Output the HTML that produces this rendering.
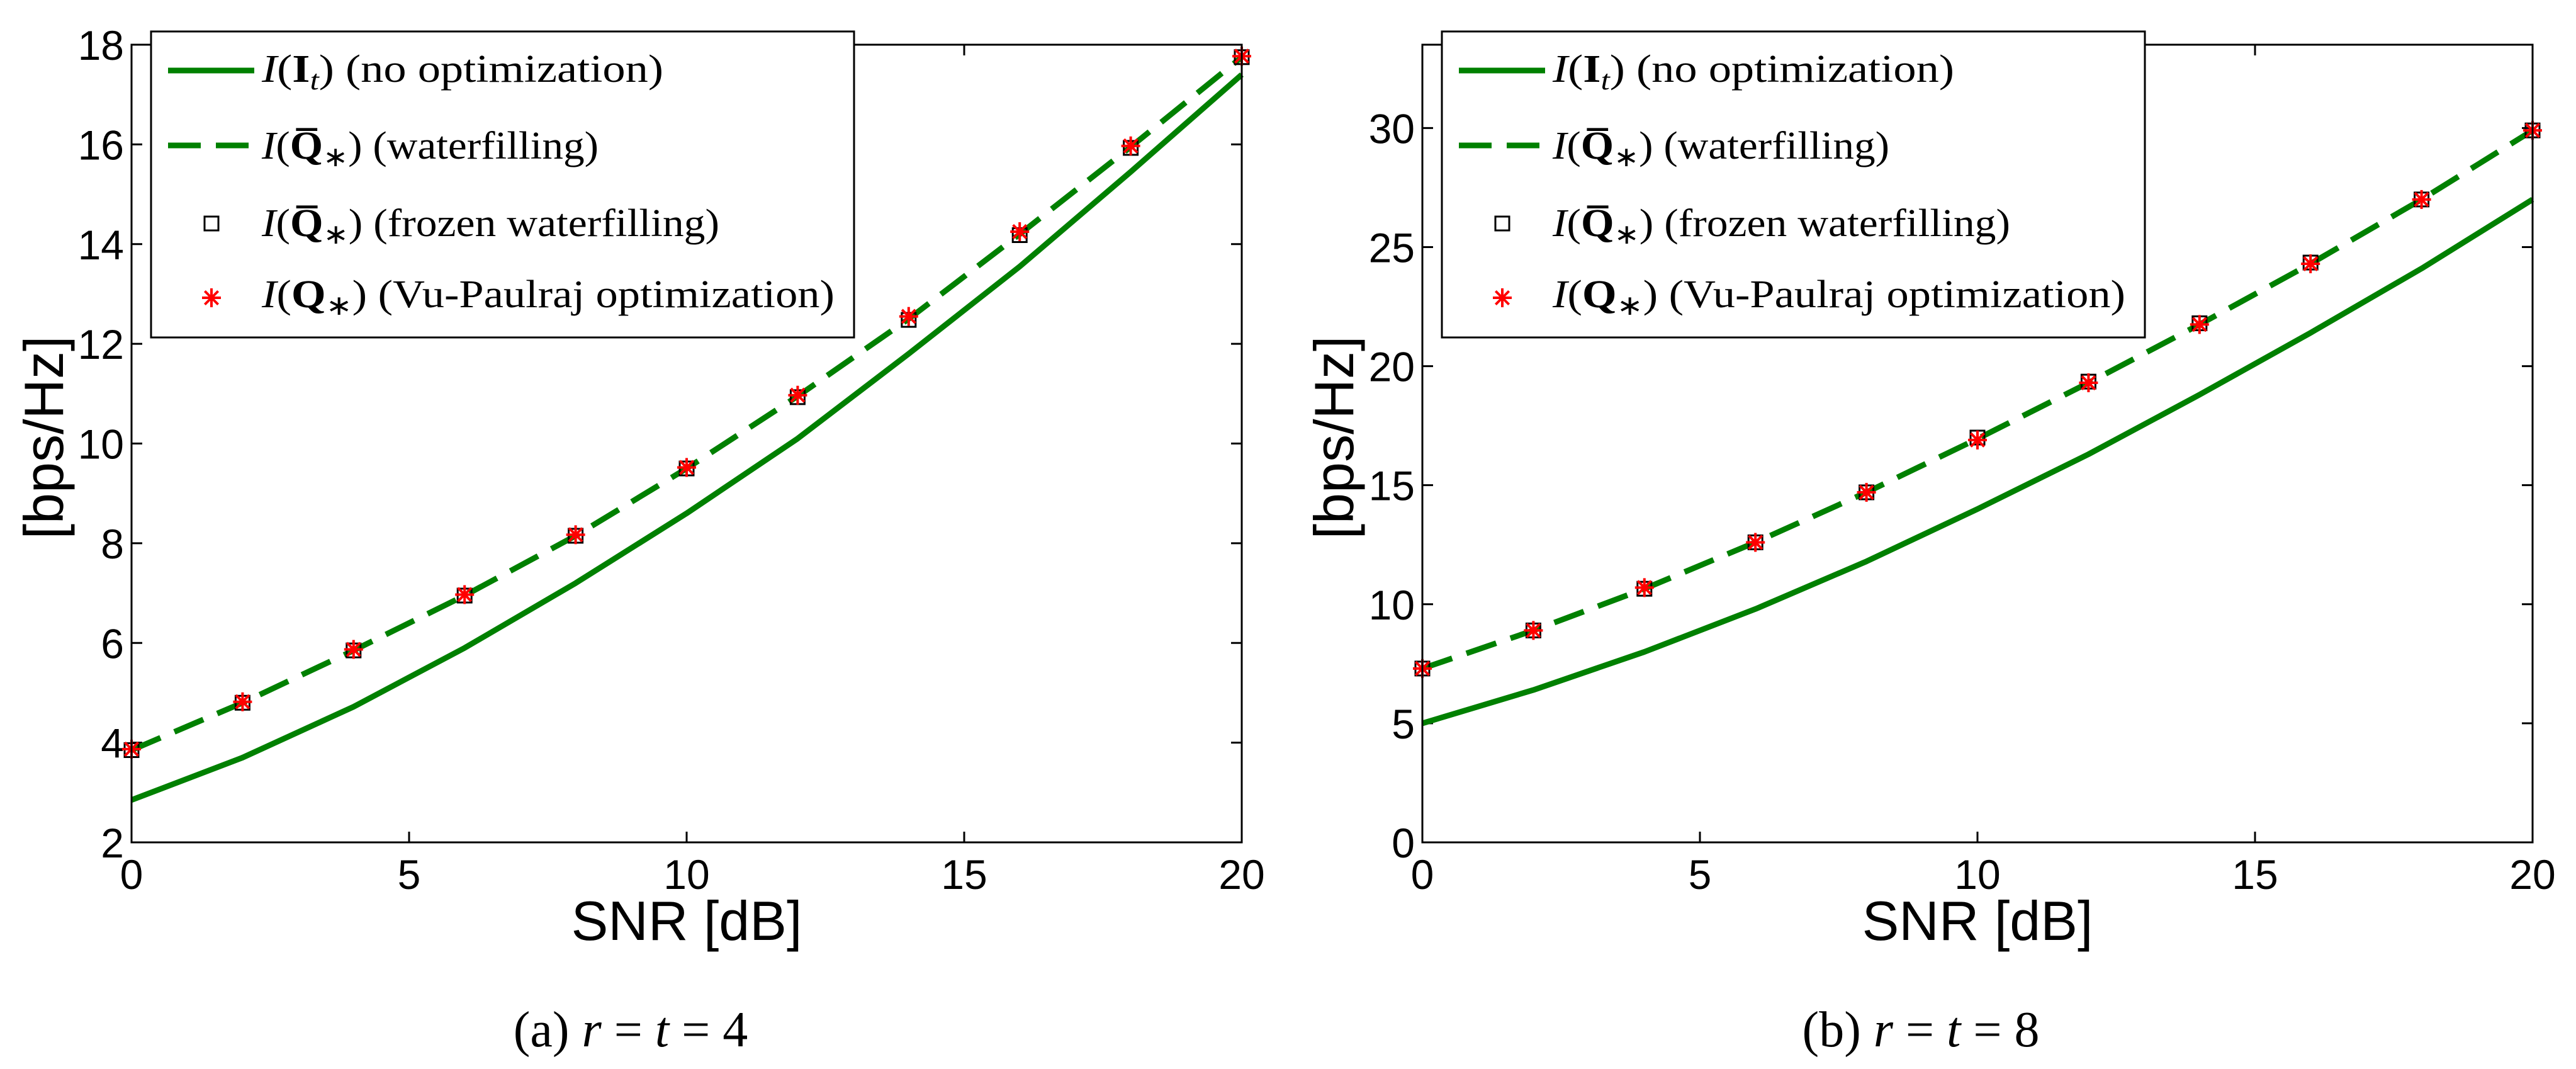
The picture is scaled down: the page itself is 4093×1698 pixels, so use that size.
<!DOCTYPE html>
<html><head><meta charset="utf-8"><style>
html,body{margin:0;padding:0;background:#fff;}
svg{display:block;}
.tick{font-family:"Liberation Sans",sans-serif;font-size:66px;fill:#000;}
.alab{font-family:"Liberation Sans",sans-serif;font-size:88px;fill:#000;}
.leg{font-family:"Liberation Serif",serif;font-size:62px;fill:#000;}
.cap{font-family:"Liberation Serif",serif;font-size:80px;fill:#000;}
</style></head><body>
<svg id="fig" width="4093" height="1698" viewBox="0 0 4093 1698" xmlns="http://www.w3.org/2000/svg"></svg>
<script>
const snr = [0,2,4,6,8,10,12,14,16,18,20];
const noOptA = [2.85,3.7,4.72,5.9,7.2,8.6,10.1,11.8,13.55,15.45,17.4];
const waterA = [3.85,4.8,5.85,6.95,8.15,9.5,10.95,12.5,14.2,15.95,17.75];
const frozenA = [3.85,4.8,5.85,6.95,8.15,9.5,10.93,12.48,14.18,15.93,17.75];
const vuA = [3.87,4.82,5.87,6.97,8.17,9.52,10.97,12.55,14.25,15.97,17.77];
const noOptB = [5.0,6.4,8.0,9.8,11.8,14.0,16.3,18.8,21.4,24.1,27.0];
const waterB = [7.3,8.9,10.65,12.6,14.7,16.95,19.3,21.75,24.3,27.0,29.9];
const frozenB = [7.3,8.9,10.65,12.6,14.7,17.0,19.35,21.8,24.35,27.0,29.9];
const vuB = [7.3,8.9,10.7,12.6,14.7,16.9,19.3,21.75,24.3,27.0,29.9];
const xTicks = [0,5,10,15,20];
const yTicksA = [2,4,6,8,10,12,14,16,18];
const yTicksB = [0,5,10,15,20,25,30];
const legendLabels = ["no optimization","waterfilling","frozen waterfilling","Vu-Paulraj optimization"];

const NS="http://www.w3.org/2000/svg";
const svg=document.getElementById('fig');
function mk(tag,attrs,parent){const e=document.createElementNS(NS,tag);for(const k in attrs)e.setAttribute(k,attrs[k]);(parent||svg).appendChild(e);return e;}

function plot(cfg){
  const g=mk('g',{});
  
  
  const L=cfg.x0,R=cfg.x1,T=71,B=1338;
  const sx=v=>L+(v-0)/(20-0)*(R-L);
  const sy=v=>B-(v-cfg.ymin)/(cfg.ymax-cfg.ymin)*(B-T);
  xTicks.forEach(t=>{
    const x=sx(t);
    mk('line',{x1:x,y1:B,x2:x,y2:B-17,stroke:'#000','stroke-width':3},g);
    mk('line',{x1:x,y1:T,x2:x,y2:T+17,stroke:'#000','stroke-width':3},g);
    const tx=mk('text',{x:x,y:1412,'text-anchor':'middle',class:'tick'},g);
    tx.textContent=t;
    
    
  });
  cfg.yTicks.forEach(t=>{
    const y=sy(t);
    mk('line',{x1:L,y1:y,x2:L+17,y2:y,stroke:'#000','stroke-width':3},g);
    mk('line',{x1:R,y1:y,x2:R-17,y2:y,stroke:'#000','stroke-width':3},g);
    const tx=mk('text',{x:L-12,y:y+24,'text-anchor':'end',class:'tick'},g);
    tx.textContent=t;
    
    
  });
  const pts=a=>a.map((v,i)=>sx(snr[i])+','+sy(v)).join(' ');
  const s1=mk('polyline',{points:pts(cfg.noOpt),fill:'none',stroke:'#008000','stroke-width':9,'stroke-linejoin':'round'},g);
  
  
  const s2=mk('polyline',{points:pts(cfg.water),fill:'none',stroke:'#008000','stroke-width':9,'stroke-dasharray':'50 24'},g);
  
  
  cfg.frozen.forEach((v,i)=>{
    const x=sx(snr[i]),y=sy(v);
    const r=mk('rect',{x:x-11,y:y-11,width:22,height:22,fill:'none',stroke:'#000','stroke-width':3},g);
    
    
  });
  cfg.vu.forEach((v,i)=>{
    const x=sx(snr[i]),y=sy(v);
    const st=mk('path',{d:star(x,y,15),stroke:'#ff0000','stroke-width':4,fill:'none'},g);
    
    
  });
  mk('rect',{x:L,y:T,width:R-L,height:B-T,fill:'none',stroke:'#000','stroke-width':3},g);
  const xl=mk('text',{x:(L+R)/2,y:1493,'text-anchor':'middle',class:'alab'},g);
  xl.textContent='SNR [dB]';
  
  
  const yl=mk('text',{x:0,y:0,'text-anchor':'middle',class:'alab',transform:`translate(${cfg.ylx},695) rotate(-90)`},g);
  yl.textContent='[bps/Hz]';
  
  
  const lg=mk('g',{},g);
  
  
  const lx=cfg.legX;
  mk('rect',{x:lx,y:50,width:1117,height:486,fill:'#fff',stroke:'#000','stroke-width':3},lg);
  const ly=[112,231,355,473], by=[130,252,375,488], widths=[638,535,727,910];
  mk('line',{x1:lx+27,y1:ly[0],x2:lx+164,y2:ly[0],stroke:'#008000','stroke-width':9},lg);
  mk('line',{x1:lx+27,y1:ly[1],x2:lx+164,y2:ly[1],stroke:'#008000','stroke-width':9,'stroke-dasharray':'52 24'},lg);
  mk('rect',{x:lx+85,y:ly[2]-11,width:22,height:22,fill:'none',stroke:'#000','stroke-width':3},lg);
  mk('path',{d:star(lx+96,ly[3],15),stroke:'#ff0000','stroke-width':4,fill:'none'},lg);
  for(let i=0;i<4;i++){
    const t=mk('text',{x:lx+176,y:by[i],class:'leg',textLength:widths[i],lengthAdjust:'spacingAndGlyphs'},lg);
    
    
    let html;
    if(i===0) html='<tspan font-style="italic">I</tspan>(<tspan font-weight="bold">I</tspan><tspan font-style="italic" font-size="44" dy="12">t</tspan><tspan dy="-12">)</tspan> ('+legendLabels[i]+')';
    else if(i<3) html='<tspan font-style="italic">I</tspan>(<tspan font-weight="bold">Q\u0305</tspan><tspan font-size="44" dy="12">∗</tspan><tspan dy="-12">)</tspan> ('+legendLabels[i]+')';
    else html='<tspan font-style="italic">I</tspan>(<tspan font-weight="bold">Q</tspan><tspan font-size="44" dy="12">∗</tspan><tspan dy="-12">)</tspan> ('+legendLabels[i]+')';
    t.innerHTML=html;
  }
  const c=mk('text',{x:cfg.capX,y:1662,'text-anchor':'middle',class:'cap'},g);
  c.innerHTML=cfg.cap;
  
  
}
function star(x,y,r){
  let d='';
  for(let k=0;k<4;k++){const a=k*Math.PI/4+Math.PI/2;const dx=r*Math.cos(a),dy=r*Math.sin(a);d+=`M${x-dx},${y-dy}L${x+dx},${y+dy}`;}
  return d;
}
plot({name:'chart-a',x0:209,x1:1973,ymin:2,ymax:18,yTicks:yTicksA,noOpt:noOptA,water:waterA,frozen:frozenA,vu:vuA,ylx:100,legX:240,capX:1002,
  cap:'(a) <tspan font-style="italic">r</tspan> = <tspan font-style="italic">t</tspan> = 4'});
plot({name:'chart-b',x0:2260,x1:4024,ymin:0,ymax:33.5,yTicks:yTicksB,noOpt:noOptB,water:waterB,frozen:frozenB,vu:vuB,ylx:2150,legX:2291,capX:3052,
  cap:'(b) <tspan font-style="italic">r</tspan> = <tspan font-style="italic">t</tspan> = 8'});
</script>
</body></html>
